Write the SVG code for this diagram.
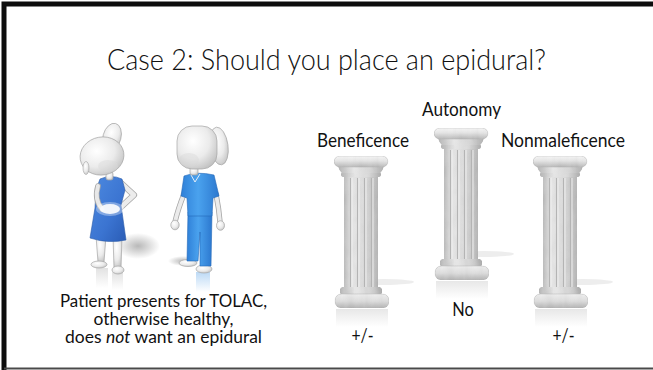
<svg xmlns="http://www.w3.org/2000/svg" xmlns:xlink="http://www.w3.org/1999/xlink" width="653" height="370" viewBox="0 0 653 370">
  <style>
    .title { font-family: Lato, "Liberation Sans", sans-serif; font-weight: 300; font-size: 28.5px; fill: #111; }
    .label { font-family: Lato, "Liberation Sans", sans-serif; font-size: 18.5px; fill: #111; }
    .caption { font-family: Lato, "Liberation Sans", sans-serif; font-size: 17.5px; fill: #111; }
    .body  { fill: url(#bodyGrad); stroke: #a6a6a6; stroke-width: 0.7; }
    .limb  { fill: none; stroke-linecap: round; stroke-linejoin: round; }
    .flute { stroke: #b4b4b4; stroke-width: 1.1; }
    .flute-hi { stroke: #efefef; stroke-width: 0.9; }
  </style>
  <defs>
    <radialGradient id="bodyGrad" cx="0.4" cy="0.35" r="0.75">
      <stop offset="0" stop-color="#ffffff"/>
      <stop offset="0.55" stop-color="#ebebeb"/>
      <stop offset="1" stop-color="#bdbdbd"/>
    </radialGradient>
    <linearGradient id="dressGrad" x1="0" y1="0" x2="1" y2="1">
      <stop offset="0" stop-color="#4d8ae0"/>
      <stop offset="0.6" stop-color="#3b74d1"/>
      <stop offset="1" stop-color="#2a5cb5"/>
    </linearGradient>
    <linearGradient id="scrubGrad" x1="0" y1="0" x2="1" y2="0">
      <stop offset="0" stop-color="#2f80d8"/>
      <stop offset="0.45" stop-color="#4aa2ee"/>
      <stop offset="1" stop-color="#2c78cf"/>
    </linearGradient>
    <radialGradient id="shadowGrad">
      <stop offset="0" stop-color="#9a9a9a" stop-opacity="0.7"/>
      <stop offset="1" stop-color="#9a9a9a" stop-opacity="0"/>
    </radialGradient>
    <linearGradient id="fadeGray" x1="0" y1="0" x2="0" y2="1">
      <stop offset="0" stop-color="#cfcfcf" stop-opacity="0.6"/>
      <stop offset="1" stop-color="#cfcfcf" stop-opacity="0"/>
    </linearGradient>
    <linearGradient id="fadeBlue" x1="0" y1="0" x2="0" y2="1">
      <stop offset="0" stop-color="#8fc0ee" stop-opacity="0.6"/>
      <stop offset="1" stop-color="#8fc0ee" stop-opacity="0"/>
    </linearGradient>

    <!-- column shading -->
    <linearGradient id="slabGrad" x1="0" y1="0" x2="0" y2="1">
      <stop offset="0" stop-color="#f4f4f4"/>
      <stop offset="0.45" stop-color="#e2e2e2"/>
      <stop offset="1" stop-color="#b8b8b8"/>
    </linearGradient>
    <linearGradient id="ringGrad" x1="0" y1="0" x2="1" y2="0">
      <stop offset="0" stop-color="#b4b4b4"/>
      <stop offset="0.35" stop-color="#e6e6e6"/>
      <stop offset="0.7" stop-color="#d6d6d6"/>
      <stop offset="1" stop-color="#aeaeae"/>
    </linearGradient>
    <linearGradient id="shaftGrad" x1="0" y1="0" x2="1" y2="0">
      <stop offset="0" stop-color="#bdbdbd"/>
      <stop offset="0.25" stop-color="#e4e4e4"/>
      <stop offset="0.6" stop-color="#dadada"/>
      <stop offset="1" stop-color="#b6b6b6"/>
    </linearGradient>
    <linearGradient id="baseGrad" x1="0" y1="0" x2="0" y2="1">
      <stop offset="0" stop-color="#ececec"/>
      <stop offset="0.5" stop-color="#dcdcdc"/>
      <stop offset="1" stop-color="#b5b5b5"/>
    </linearGradient>
    <linearGradient id="reflGrad" x1="0" y1="0" x2="0" y2="1">
      <stop offset="0" stop-color="#d4d4d4" stop-opacity="0.55"/>
      <stop offset="1" stop-color="#d4d4d4" stop-opacity="0"/>
    </linearGradient>
    <filter id="marble" x="0" y="0" width="1" height="1">
      <feTurbulence type="fractalNoise" baseFrequency="0.14 0.06" numOctaves="3" seed="7" result="noise"/>
      <feColorMatrix in="noise" type="matrix" values="0.33 0.33 0.33 0 0  0.33 0.33 0.33 0 0  0.33 0.33 0.33 0 0  0 0 0 0 1" result="gray"/>
      <feComposite in="SourceGraphic" in2="gray" operator="arithmetic" k1="0" k2="1" k3="0.16" k4="-0.08" result="tex"/>
      <feComposite in="tex" in2="SourceAlpha" operator="in"/>
    </filter>

    <!-- one column, 54 wide, 152 tall, origin at top-left of the capital -->
    <g id="column">
      <ellipse cx="50" cy="126" rx="30" ry="3" fill="#c4c4c4" opacity="0.3"/>
      <rect x="2" y="153" width="52" height="18" fill="url(#reflGrad)"/>
      <g filter="url(#marble)">
        <rect x="10" y="20" width="34" height="113" fill="url(#shaftGrad)"/>
        <rect x="6" y="131" width="42" height="8" rx="3" fill="url(#ringGrad)"/>
        <rect x="1" y="138" width="54" height="14" rx="6" fill="url(#baseGrad)" stroke="#b4b4b4" stroke-width="0.5"/>
        <rect x="7" y="16" width="40" height="5" rx="2" fill="url(#ringGrad)"/>
        <path d="M4,10 H50 Q49,15 46,17 H8 Q5,15 4,10 Z" fill="url(#ringGrad)"/>
        <rect x="0" y="0" width="54" height="11" rx="5.5" fill="url(#slabGrad)" stroke="#b4b4b4" stroke-width="0.5"/>
      </g>
      <g>
        <line class="flute" x1="16.5" y1="22" x2="16.5" y2="131"/>
        <line class="flute-hi" x1="18" y1="22" x2="18" y2="131"/>
        <line class="flute" x1="23.5" y1="22" x2="23.5" y2="131"/>
        <line class="flute-hi" x1="25" y1="22" x2="25" y2="131"/>
        <line class="flute" x1="30.5" y1="22" x2="30.5" y2="131"/>
        <line class="flute-hi" x1="32" y1="22" x2="32" y2="131"/>
        <line class="flute" x1="37.5" y1="22" x2="37.5" y2="131"/>
        <line class="flute-hi" x1="39" y1="22" x2="39" y2="131"/>
      </g>
    </g>
  </defs>

  <rect width="653" height="370" fill="#ffffff"/>

  <!-- slide frame -->
  <g id="frame">
    <path d="M653,4 H4 V370" fill="none" stroke="#0d0d0d" stroke-width="5"/>
    <line x1="4" y1="368.5" x2="653" y2="368.5" stroke="#4a4a4a" stroke-width="2"/>
  </g>

  <g id="title">
    <text class="title" x="326.5" y="70" text-anchor="middle" textLength="439" lengthAdjust="spacingAndGlyphs">Case 2: Should you place an epidural?</text>
  </g>

  <!-- patient in blue dress -->
  <g id="patient">
    <ellipse cx="138" cy="246" rx="22" ry="13" fill="url(#shadowGrad)"/>
    <rect x="96" y="268" width="12" height="20" fill="url(#fadeGray)"/>
    <rect x="112" y="272" width="11" height="18" fill="url(#fadeGray)"/>
    <!-- legs -->
    <path class="body" d="M96,236 L98,262 L104,262 L106,236 Z"/>
    <path class="body" d="M113,236 L114,268 L121,268 L122,236 Z"/>
    <ellipse class="body" cx="99" cy="264.5" rx="8" ry="3.5"/>
    <ellipse class="body" cx="118" cy="270" rx="6" ry="4"/>
    <!-- arm on hip -->
    <path class="limb" d="M121,183 L134,195 L121,207" stroke="#a6a6a6" stroke-width="6.2"/>
    <path class="limb" d="M121,183 L134,195 L121,207" stroke="#ececec" stroke-width="4.6"/>
    <!-- dress -->
    <path d="M100,179 Q111,174 122,179 L125,190 L121,205 L126,240 Q108,244 90,238 L95,208 L96,190 Z" fill="url(#dressGrad)" stroke="#2a5aa8" stroke-width="0.6"/>
    <!-- arm across the belly -->
    <path class="limb" d="M98,186 Q94,200 102,209" stroke="#a6a6a6" stroke-width="5.6"/>
    <path class="limb" d="M98,186 Q94,200 102,209" stroke="#e8e8e8" stroke-width="4"/>
    <ellipse cx="110" cy="209" rx="10" ry="5" fill="#f4f7fb" opacity="0.95"/>
    <ellipse cx="110" cy="209" rx="14" ry="7" fill="#ffffff" opacity="0.35"/>
    <!-- neck and head -->
    <rect class="body" x="106" y="172" width="7" height="8" rx="2"/>
    <ellipse class="body" cx="112" cy="137" rx="9" ry="14" transform="rotate(15 112 137)"/>
    <ellipse class="body" cx="102" cy="156" rx="22" ry="19" transform="rotate(-10 102 156)"/>
    <ellipse cx="86" cy="168" rx="3" ry="6.5" fill="url(#bodyGrad)" stroke="#a6a6a6" stroke-width="0.6"/>
    <ellipse cx="108" cy="166" rx="10" ry="6" fill="#d9d9d9" opacity="0.45"/>
  </g>

  <!-- clinician in blue scrubs -->
  <g id="clinician">
    <ellipse cx="183" cy="261" rx="15" ry="5" fill="url(#shadowGrad)"/>
    <rect x="196" y="272" width="14" height="20" fill="url(#fadeBlue)"/>
    <!-- arms -->
    <path class="limb" d="M184,194 Q178,209 175,222" stroke="#a6a6a6" stroke-width="5.4"/>
    <path class="limb" d="M184,194 Q178,209 175,222" stroke="#ebebeb" stroke-width="3.8"/>
    <path class="limb" d="M216,194 Q219,209 220,222" stroke="#a6a6a6" stroke-width="5.4"/>
    <path class="limb" d="M216,194 Q219,209 220,222" stroke="#ebebeb" stroke-width="3.8"/>
    <ellipse class="body" cx="175" cy="225" rx="4.2" ry="4.8"/>
    <ellipse class="body" cx="220.5" cy="225.5" rx="4" ry="4.8"/>
    <!-- feet -->
    <ellipse class="body" cx="188" cy="263" rx="9" ry="3.5"/>
    <ellipse class="body" cx="204" cy="269" rx="8" ry="4"/>
    <!-- trousers -->
    <path d="M188,212 L212,212 L211,266 L200,266 L200,232 L198,261 L187,261 Z" fill="url(#scrubGrad)" stroke="#2468b8" stroke-width="0.6"/>
    <!-- top -->
    <path d="M184,176 Q197,171 214,175 L219,196 L213,198 L212,216 L188,216 L187,198 L181,196 Z" fill="url(#scrubGrad)" stroke="#2468b8" stroke-width="0.6"/>
    <path d="M191,175 L195,182 L200,174" fill="none" stroke="#e6eef8" stroke-width="1"/>
    <!-- neck and head -->
    <rect class="body" x="190" y="167" width="8" height="8" rx="2"/>
    <ellipse class="body" cx="219" cy="146" rx="9" ry="19" transform="rotate(-8 219 146)"/>
    <rect class="body" x="177" y="126" width="40" height="43" rx="15"/>
    <ellipse cx="189" cy="160" rx="10" ry="7" fill="#d6d6d6" opacity="0.4"/>
  </g>

  <g id="caption">
    <text class="caption" x="163.5" y="307" text-anchor="middle" textLength="207" lengthAdjust="spacingAndGlyphs">Patient presents for TOLAC,</text>
    <text class="caption" x="163.5" y="325" text-anchor="middle" textLength="140" lengthAdjust="spacingAndGlyphs">otherwise healthy,</text>
    <text class="caption" x="163.5" y="343" text-anchor="middle" textLength="197" lengthAdjust="spacingAndGlyphs">does <tspan font-style="italic">not</tspan> want an epidural</text>
  </g>

  <!-- the three principles -->
  <g id="pillar-beneficence">
    <use href="#column" xlink:href="#column" x="334" y="156"/>
    <text class="label" x="363" y="147" text-anchor="middle" textLength="92" lengthAdjust="spacingAndGlyphs">Beneficence</text>
    <text class="label" x="362.5" y="342" text-anchor="middle" textLength="22" lengthAdjust="spacingAndGlyphs">+/-</text>
  </g>
  <g id="pillar-autonomy">
    <use href="#column" xlink:href="#column" x="434" y="128"/>
    <text class="label" x="461.5" y="116" text-anchor="middle" textLength="79" lengthAdjust="spacingAndGlyphs">Autonomy</text>
    <text class="label" x="463" y="316" text-anchor="middle" textLength="21.5" lengthAdjust="spacingAndGlyphs">No</text>
  </g>
  <g id="pillar-nonmaleficence">
    <use href="#column" xlink:href="#column" x="533" y="156"/>
    <text class="label" x="563" y="147" text-anchor="middle" textLength="124" lengthAdjust="spacingAndGlyphs">Nonmaleficence</text>
    <text class="label" x="563.5" y="342" text-anchor="middle" textLength="22" lengthAdjust="spacingAndGlyphs">+/-</text>
  </g>
</svg>
